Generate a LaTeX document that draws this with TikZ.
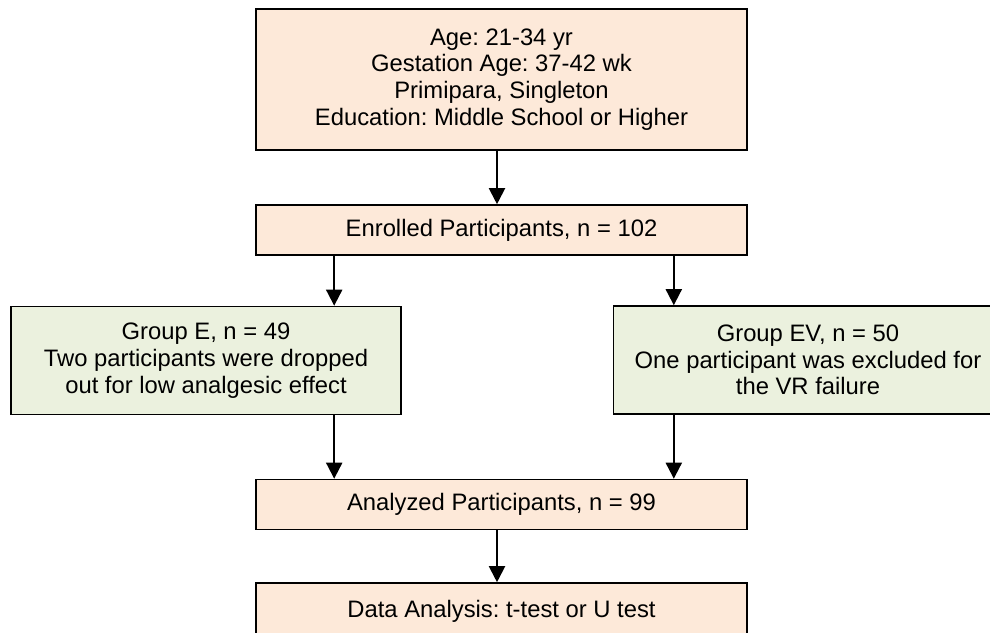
\documentclass[tikz,border=0pt]{standalone}
\usepackage{fontspec}
\setmainfont{Liberation Sans}
\frenchspacing
\usetikzlibrary{arrows.meta}
\definecolor{peach}{HTML}{FDE9D9}
\definecolor{palegreen}{HTML}{EBF1DE}
\tikzset{
  box/.style={draw=black, line width=1.6pt, inner sep=0pt, align=center,
    font=\fontsize{23.8}{26.7}\selectfont, text=black},
  peachbox/.style={box, fill=peach},
  greenbox/.style={box, fill=palegreen},
  arr/.style={draw=black, line width=2pt, -{Triangle[width=16pt,length=16pt]}}
}
\begin{document}
\frenchspacing
\begin{tikzpicture}[x=1pt,y=-1pt]
\useasboundingbox (0,0) rectangle (990,632);
\clip (0,0) rectangle (990,632);
\fill[white] (0,0) rectangle (990,632);

\node[peachbox, minimum width=491pt, minimum height=141pt] (top) at (501.5,79.5)
  {Age: 21-34 yr\\Gestation Age: 37-42 wk\\Primipara, Singleton\\Education: Middle School or Higher};
\node[peachbox, minimum width=491pt, minimum height=50pt] (enr) at (501.5,230)
  {Enrolled Participants, n = 102};
\node[greenbox, minimum width=390pt, minimum height=108pt] (ge) at (206,360.5)
  {Group E, n = 49\\Two participants were dropped\\out for low analgesic effect};
\node[greenbox, minimum width=389pt, minimum height=108pt] (gev) at (808,360)
  {Group EV, n = 50\\One participant was excluded for\\the VR failure};
\node[peachbox, minimum width=491pt, minimum height=50pt] (ana) at (501.5,504.5)
  {Analyzed Participants, n = 99};
\node[peachbox, minimum width=491pt, minimum height=56pt, text depth=4pt] (dat) at (501.5,611)
  {Data Analysis: t-test or U test};

\coordinate (lx) at ([xshift=79pt]enr.south west);
\coordinate (rx) at ([xshift=-74pt]enr.south east);

\draw[arr] ([xshift=-4.5pt]top.south) -- ([xshift=-4.5pt]enr.north);
\draw[arr] (lx) -- (lx |- ge.north);
\draw[arr] (rx) -- (rx |- gev.north);
\draw[arr] (lx |- ge.south) -- (lx |- ana.north);
\draw[arr] (rx |- gev.south) -- (rx |- ana.north);
\draw[arr] ([xshift=-4.5pt]ana.south) -- ([xshift=-4.5pt]dat.north);
\end{tikzpicture}
\end{document}
